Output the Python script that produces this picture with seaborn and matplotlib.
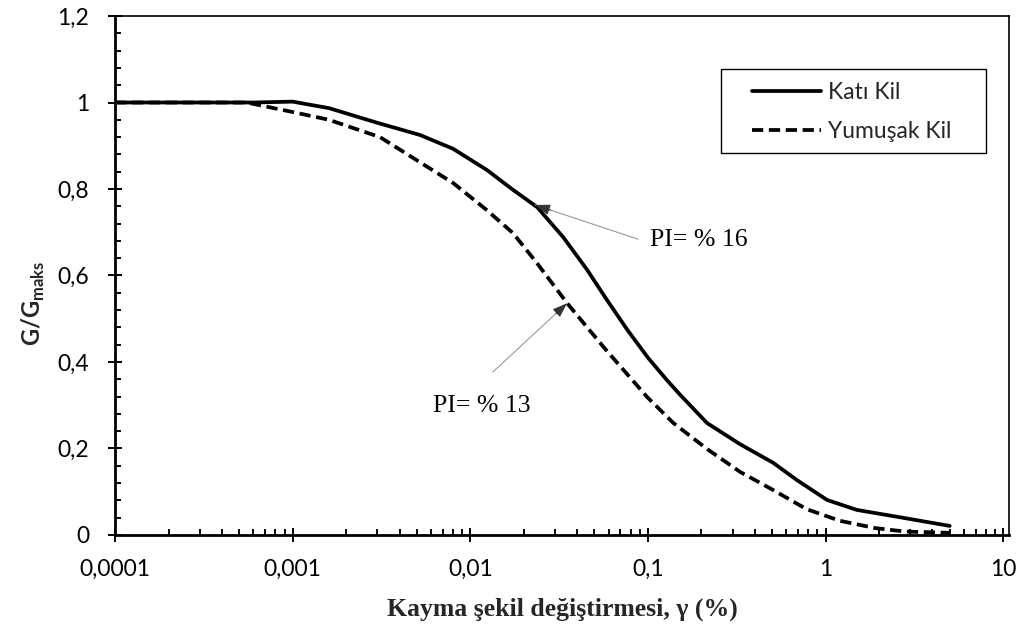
import numpy as np
import pandas as pd
import matplotlib
matplotlib.use("Agg")
import matplotlib.pyplot as plt
import seaborn as sns
from matplotlib.ticker import FixedLocator, MultipleLocator, LogLocator, NullFormatter, FixedFormatter
from matplotlib.patches import Rectangle

# ---- data ----
series_names = ["Katı Kil", "Yumuşak Kil"]

stiff_strain = [0.0001, 0.0003, 0.0006, 0.001, 0.0016, 0.003, 0.0052, 0.008, 0.0124,
                0.0174, 0.0238, 0.0333, 0.0455, 0.0589, 0.0764, 0.1, 0.128, 0.152,
                0.215, 0.33, 0.507, 0.69, 1.02, 1.5, 2.8, 5.0]
stiff_ratio = [1.0, 1.0, 1.0, 1.002, 0.987, 0.953, 0.925, 0.893, 0.844,
               0.798, 0.758, 0.689, 0.613, 0.543, 0.475, 0.410, 0.358, 0.324,
               0.259, 0.210, 0.167, 0.127, 0.081, 0.058, 0.039, 0.021]

soft_strain = [0.0001, 0.0003, 0.00055, 0.001, 0.0016, 0.0031, 0.0052, 0.008, 0.0124,
               0.0174, 0.0238, 0.0351, 0.0455, 0.0589, 0.0764, 0.099, 0.139, 0.215,
               0.33, 0.507, 0.78, 1.2, 1.9, 2.8, 5.0]
soft_ratio = [1.0, 1.0, 1.0, 0.978, 0.960, 0.920, 0.862, 0.814, 0.751,
              0.698, 0.628, 0.536, 0.480, 0.425, 0.372, 0.319, 0.259, 0.199,
              0.146, 0.104, 0.060, 0.033, 0.016, 0.008, 0.005]

x_ticks = [0.0001, 0.001, 0.01, 0.1, 1, 10]
x_tick_labels = ["0,0001", "0,001", "0,01", "0,1", "1", "10"]
y_ticks = [0, 0.2, 0.4, 0.6, 0.8, 1.0, 1.2]
y_tick_labels = ["0", "0,2", "0,4", "0,6", "0,8", "1", "1,2"]

annot_labels = ["PI= % 16", "PI= % 13"]
annot_tips = [(0.0232, 0.763), (0.0351, 0.536)]
annot_tails = [(0.088, 0.684), (0.0134, 0.377)]
annot_text_pos = [(0.103, 0.682), (0.00616, 0.298)]

df = pd.concat([
    pd.DataFrame({"strain": stiff_strain, "ratio": stiff_ratio, "series": series_names[0]}),
    pd.DataFrame({"strain": soft_strain, "ratio": soft_ratio, "series": series_names[1]}),
], ignore_index=True)

# ---- style ----
sns.set_style("ticks")
plt.rcParams["font.family"] = ["Lato", "DejaVu Sans"]
plt.rcParams["mathtext.fontset"] = "custom"
plt.rcParams["mathtext.bf"] = "Lato:bold"
plt.rcParams["mathtext.rm"] = "Lato"

fig = plt.figure(figsize=(10.3, 6.3), dpi=100)
ax = fig.add_axes([0.1117, 0.1508, 0.868, 0.8238])
ax.set_xscale("log")

sns.lineplot(data=df, x="strain", y="ratio", hue="series", style="series",
             palette={series_names[0]: "black", series_names[1]: "black"},
             dashes={series_names[0]: "", series_names[1]: (3, 1.5)},
             linewidth=2.7, estimator=None, sort=False, ax=ax)

ax.set_xlim(0.0001, 10.8)
ax.set_ylim(0, 1.2)

ax.xaxis.set_major_locator(FixedLocator(x_ticks))
ax.xaxis.set_major_formatter(FixedFormatter(x_tick_labels))
ax.xaxis.set_minor_locator(LogLocator(base=10, subs=np.arange(2, 10), numticks=20))
ax.xaxis.set_minor_formatter(NullFormatter())
ax.yaxis.set_major_locator(FixedLocator(y_ticks))
ax.yaxis.set_major_formatter(FixedFormatter(y_tick_labels))
ax.yaxis.set_minor_locator(MultipleLocator(0.04))

ax.tick_params(axis="both", which="both", bottom=True, left=True, top=False, right=False)
ax.tick_params(axis="both", which="major", direction="inout", length=10, width=1.4,
               labelsize=16.5, colors="black")
ax.tick_params(axis="y", which="major", pad=13.5)
ax.tick_params(axis="x", which="major", pad=12)
ax.tick_params(axis="both", which="minor", direction="in", length=4.3, width=1.4,
               colors="black")

for side in ["left", "bottom"]:
    ax.spines[side].set_linewidth(2.0)
    ax.spines[side].set_color("black")
for side in ["top", "right"]:
    ax.spines[side].set_linewidth(1.2)
    ax.spines[side].set_color("black")
    ax.spines[side].set_visible(True)

ax.set_xlabel("Kayma şekil değiştirmesi, γ (%)", fontfamily="Liberation Serif",
              fontweight="bold", fontsize=18.5, labelpad=13)
ax.set_ylabel(r"$\mathbf{G/G}_{\mathbf{maks}}$", fontsize=17)
ax.yaxis.set_label_coords(-0.076, 0.447)

# legend
handles, labels = ax.get_legend_handles_labels()
if ax.get_legend() is not None:
    ax.get_legend().remove()
leg = ax.legend(handles, labels, loc="upper left", bbox_to_anchor=(0.7125, 0.873),
                frameon=False, fontsize=16.5, handlelength=3.0, handletextpad=0.3,
                labelspacing=0.8, borderpad=0, borderaxespad=0)
for line in leg.get_lines():
    line.set_linewidth(2.7)
ax.add_patch(Rectangle((0.678, 0.736), 0.296, 0.162, transform=ax.transAxes,
                       fill=False, edgecolor="black", linewidth=1.0, zorder=5))

# annotations: thin gray leader line + dark arrow head
for lab, tip, tail, tpos in zip(annot_labels, annot_tips, annot_tails, annot_text_pos):
    ax.annotate("", xy=tip, xytext=tail,
                arrowprops=dict(arrowstyle="-", color="#9a9a9a", lw=0.8,
                                shrinkA=0, shrinkB=0))
    lx = 10 ** (np.log10(tail[0]) + 0.85 * (np.log10(tip[0]) - np.log10(tail[0])))
    ly = tail[1] + 0.85 * (tip[1] - tail[1])
    ax.annotate("", xy=tip, xytext=(lx, ly),
                arrowprops=dict(arrowstyle="-|>,head_length=0.9,head_width=0.32",
                                color="#333333", lw=0.8, shrinkA=0, shrinkB=0))
    ax.text(tpos[0], tpos[1], lab, fontfamily="Liberation Serif", fontsize=18.5,
            ha="left", va="center", color="black")

fig.savefig("out.png", dpi=100)
